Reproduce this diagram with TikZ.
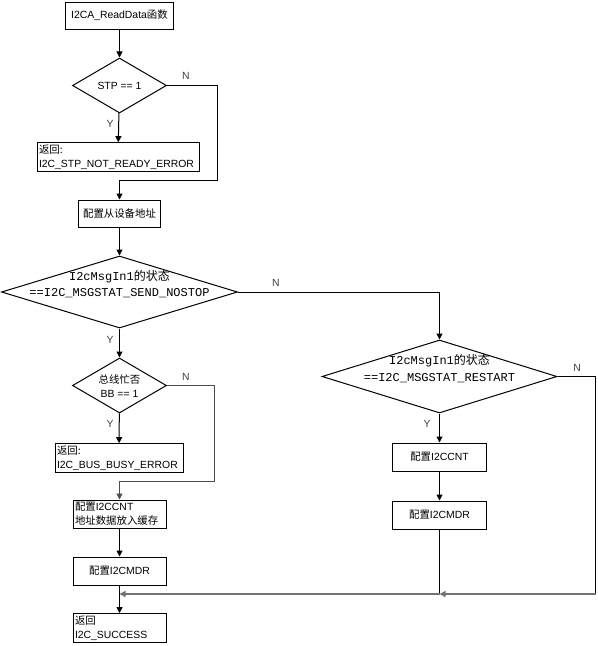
\documentclass[tikz,border=0pt]{standalone}
\usepackage{fontspec}
\setmainfont{Liberation Sans}
\newfontfamily\cjk{Noto Sans CJK SC}
\newfontfamily\codefont{Liberation Mono}
\usetikzlibrary{shapes.geometric,arrows.meta}

\tikzset{every picture/.style={line width=0.75pt}}
\tikzset{
  procbox/.style={draw, rectangle, inner sep=1.5pt, font=\fontsize{7.8}{10.5}\selectfont},
  retbox/.style={procbox, align=left},
  decision/.style={draw, diamond, inner sep=0pt},
  condtext/.style={align=center, inner sep=0pt, font=\fontsize{7.8}{10.5}\selectfont},
  codetext/.style={align=center, inner sep=0pt, font=\codefont\fontsize{9}{12.5}\selectfont},
  yn/.style={inner sep=0pt, text=black!75, font=\fontsize{7.8}{9}\selectfont},
  flow/.style={-{Triangle[length=4.5pt,width=4.5pt]}},
  greylink/.style={draw=black!55, line width=1.2pt}
}

\begin{document}
\begin{tikzpicture}[x=0.75pt,y=0.75pt,yscale=-1,xscale=1]
  \useasboundingbox (0,0) rectangle (597,646);

  %Shape: Rectangle
  \node[procbox, minimum width=81pt, minimum height=20.25pt] (start) at (119.5,15.5) {I2CA\_ReadData{\cjk 函数}};
  %Shape: Diamond
  \node[decision, minimum width=70.5pt, minimum height=41.25pt] (stp) at (119.5,85.5) {};
  %Shape: Rectangle
  \node[retbox, text width=118.5pt, minimum height=21pt] (stperr) at (118,157) {{\cjk 返回:}\\I2C\_STP\_NOT\_READY\_ERROR};
  %Shape: Rectangle
  \node[procbox, minimum width=61.5pt, minimum height=20.25pt] (slave) at (119.5,213.5) {\cjk 配置从设备地址};
  %Shape: Diamond
  \node[decision, minimum width=177pt, minimum height=54pt] (nostop) at (119.5,292) {};
  %Shape: Diamond
  \node[decision, minimum width=176.25pt, minimum height=54.75pt] (restart) at (439.5,376.5) {};
  %Shape: Diamond
  \node[decision, minimum width=70.5pt, minimum height=41.25pt] (busy) at (119.5,385.5) {};
  %Shape: Rectangle
  \node[retbox, text width=93pt, minimum height=21pt] (busyerr) at (119,458) {{\cjk 返回:}\\I2C\_BUS\_BUSY\_ERROR};
  %Shape: Rectangle
  \node[retbox, text width=66.75pt, minimum height=21pt] (cntbuf) at (119.5,514) {{\cjk 配置}I2CCNT\\{\cjk 地址数据放入缓存}};
  %Shape: Rectangle
  \node[procbox, minimum width=69.75pt, minimum height=21pt] (mdrl) at (119.5,571) {{\cjk 配置}I2CMDR};
  %Shape: Rectangle
  \node[retbox, text width=66.75pt, minimum height=21pt] (success) at (119.5,628) {{\cjk 返回}\\I2C\_SUCCESS};
  %Shape: Rectangle
  \node[procbox, minimum width=70.5pt, minimum height=21pt] (cntr) at (439.5,457) {{\cjk 配置}I2CCNT};
  %Shape: Rectangle
  \node[procbox, minimum width=70.5pt, minimum height=21pt] (mdrr) at (439.5,515) {{\cjk 配置}I2CMDR};

  % Text Node
  \node[condtext] (stptxt) at (119.5,86) {STP == 1};
  % Text Node
  \node[codetext] (nostoptxt) at (119.5,284) {I2cMsgIn1{\cjk 的状态}\\==I2C\_MSGSTAT\_SEND\_NOSTOP};
  % Text Node
  \node[codetext] (restarttxt) at (439.5,368.5) {I2cMsgIn1{\cjk 的状态}\\==I2C\_MSGSTAT\_RESTART};
  % Text Node
  \node[condtext] (busytxt) at (119.5,386) {{\cjk 总线忙否}\\BB == 1};

  % Text Node
  \node[yn] (stpy) at (110,124) {Y};
  \node[yn] (stpn) at (186,76) {N};
  \node[yn] (nostopy) at (110,340) {Y};
  \node[yn] (nostopn) at (276,283) {N};
  \node[yn] (busyy) at (110,424) {Y};
  \node[yn] (busyn) at (186,377) {N};
  \node[yn] (restarty) at (427,424) {Y};
  \node[yn] (restartn) at (577,368) {N};

  % bends of the N branches
  \coordinate (stpbend) at (217,180);
  \coordinate (busybend) at (214,481);
  \coordinate (restartbend) at (595.5,594);
  \coordinate (rightjoin) at (439.5,594);
  \coordinate (leftjoin) at (119.5,594);

  %Straight Lines
  \draw[flow] (start) -- (stp);
  \draw[flow] (stp) -- (stperr);
  \draw[flow] (stp.east) -| (stpbend) -| (slave.north);
  \draw[flow] (slave) -- (nostop);
  \draw[flow] (nostop.east) -| (restart.north);
  \draw[flow] (nostop) -- (busy);
  \draw[flow] (busy) -- (busyerr);
  \draw[flow, draw=black!70] (busy.east) -| (busybend) -| (cntbuf.north);
  \draw[flow] (cntbuf) -- (mdrl);
  \draw[flow] (mdrl) -- (success);
  \draw[flow] (restart) -- (cntr);
  \draw[flow] (cntr) -- (mdrr);
  \draw (restart.east) -| (restartbend);
  \draw (mdrr) -- (rightjoin);
  \draw[flow, greylink] (restartbend) -- (rightjoin);
  \draw[flow, greylink] (rightjoin) -- (leftjoin);

\end{tikzpicture}
\end{document}
